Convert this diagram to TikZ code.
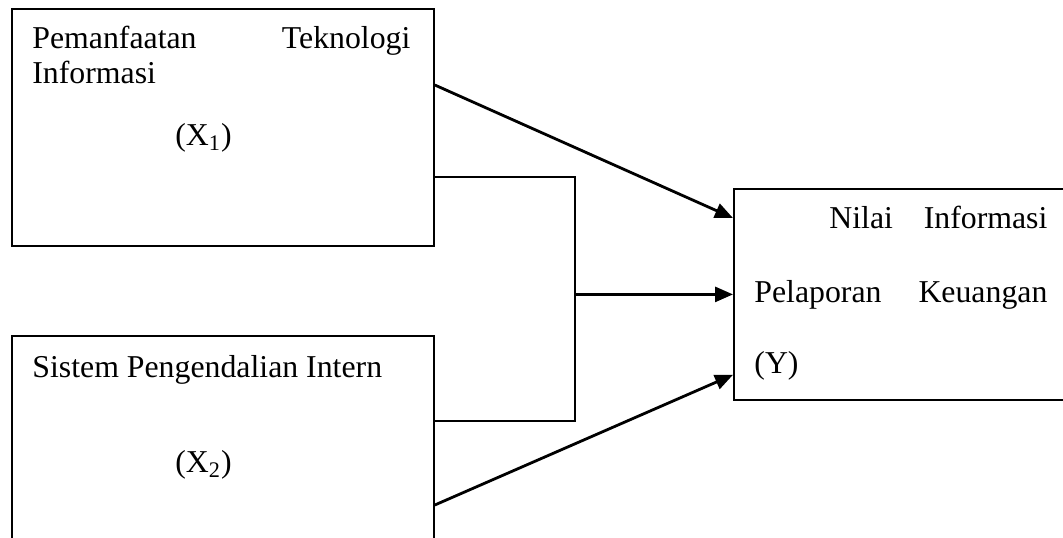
\documentclass[tikz,border=0pt]{standalone}
\usepackage{fontspec}
\setmainfont{Liberation Serif}
\usetikzlibrary{arrows.meta}

\tikzset{
  varbox/.style={draw, line width=0.9pt, inner sep=0pt, anchor=north west},
  vartext/.style={anchor=base west, inner sep=0pt, font=\fontsize{15.9}{19}\selectfont},
  link/.style={-{Triangle[length=9pt,width=7.5pt]}, line width=1.4pt},
  bracket/.style={line width=0.9pt}
}

\begin{document}
\begin{tikzpicture}[x=0.5pt, y=-0.5pt]

\useasboundingbox (0,0) rectangle (1063,537);
\clip (0,0) rectangle (1063,537);

% Boxes
\node[varbox, minimum width=211pt, minimum height=118.5pt] (x1) at (11,8) {};
\node[varbox, minimum width=211pt, minimum height=115pt] (x2) at (11,335) {};
\node[varbox, minimum width=175pt, minimum height=105.5pt] (y) at (733,188) {};

% Texts of X1
\node[vartext] (x1a) at (32,48) {\hbox to 189pt{Pemanfaatan\hfill Teknologi}};
\node[vartext] (x1b) at (32,83) {Informasi};
\node[vartext] (x1c) at (175,145) {(X\textsubscript{1})};

% Texts of X2
\node[vartext] (x2a) at (32,377) {Sistem Pengendalian Intern};
\node[vartext] (x2b) at (175,472) {(X\textsubscript{2})};

% Texts of Y
\node[vartext] (ya) at (829,228) {\hbox to 109pt{Nilai\hfill Informasi}};
\node[vartext] (yb) at (754,302) {\hbox to 146.5pt{Pelaporan\hfill Keuangan}};
\node[vartext] (yc) at (754,373) {(Y)};

% Joint effect bracket
\coordinate (j1) at ([yshift=-84.5pt]x1.north east);
\coordinate (j2) at ([yshift=-43pt]x2.north east);
\coordinate (jx) at (575,0);
\coordinate (jm) at (jx |- y.west);
\draw[bracket] (j1) -| (jx |- j2) -- (j2);

% Arrows
\draw[link] ([yshift=-38.5pt]x1.north east) -- ([yshift=-15pt]y.north west);
\draw[link] (jm) -- (y.west);
\draw[link] ([yshift=-85pt]x2.north east) -- ([yshift=13pt]y.south west);

\end{tikzpicture}
\end{document}
